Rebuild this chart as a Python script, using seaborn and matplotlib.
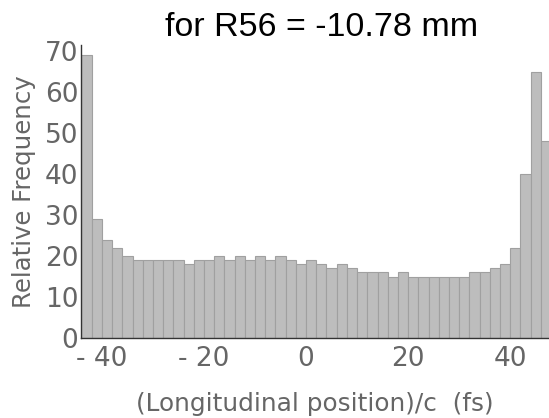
import numpy as np
import pandas as pd
import matplotlib
matplotlib.use("Agg")
import matplotlib.pyplot as plt
from matplotlib.ticker import MultipleLocator
import seaborn as sns

# Histogram of longitudinal position (bin width 2 fs, first bin starts at -44 fs)
bin_start = -44
bin_width = 2
frequencies = [69, 29, 24, 22, 20, 19, 19, 19, 19, 19, 18, 19, 19, 20, 19, 20,
               19, 20, 19, 20, 19, 18, 19, 18, 17, 18, 17, 16, 16, 16, 15, 16,
               15, 15, 15, 15, 15, 15, 16, 16, 17, 18, 22, 40, 65, 48]
x_ticks = [-40, -20, 0, 20, 40]
x_tick_labels = ["- 40", "- 20", "0", "20", "40"]
y_ticks = [0, 10, 20, 30, 40, 50, 60, 70]

n_bins = len(frequencies)
bin_end = bin_start + n_bins * bin_width
df = pd.DataFrame({
    "position": bin_start + bin_width * (np.arange(n_bins) + 0.5),
    "freq": frequencies,
})

sns.set_style("white")
plt.rcParams["font.family"] = ["DejaVu Sans"]

fig = plt.figure(figsize=(5.49, 4.18), dpi=100)
ax = fig.add_axes([0.1475, 0.1914, 0.8525, 0.7006])

sns.histplot(data=df, x="position", weights="freq", binwidth=bin_width,
             binrange=(bin_start, bin_end), ax=ax,
             color="#bdbdbd", edgecolor="#a0a0a0", linewidth=0.8, alpha=1.0)

ax.set_xlim(-44.1, 47.6)
ax.set_ylim(0, 71.5)

grey = "#666666"
ax.set_xticks(x_ticks)
ax.set_xticklabels(x_tick_labels)
ax.set_yticks(y_ticks)
ax.xaxis.set_minor_locator(MultipleLocator(5))
ax.yaxis.set_minor_locator(MultipleLocator(2))
ax.tick_params(axis="both", which="major", direction="in", length=4, width=0.8,
               colors="#555555", labelcolor=grey, labelsize=19)
ax.tick_params(axis="x", which="major", pad=6)
ax.tick_params(axis="y", which="major", pad=2)
ax.tick_params(axis="both", which="minor", direction="in", length=2, width=0.6,
               colors="#777777")

for side in ("top", "right"):
    ax.spines[side].set_visible(False)
for side in ("left", "bottom"):
    ax.spines[side].set_color("#333333")
    ax.spines[side].set_linewidth(1.0)

ax.set_xlabel("(Longitudinal position)/c  (fs)", fontsize=17.8, color=grey, labelpad=14)
ax.set_ylabel("Relative Frequency", fontsize=17.6, color=grey, labelpad=6)

fig.text(0.586, 0.935, "for R56 = -10.78 mm", ha="center", va="center",
         fontsize=24.5, color="black", family="Liberation Sans")

fig.savefig("out.png", dpi=100)
